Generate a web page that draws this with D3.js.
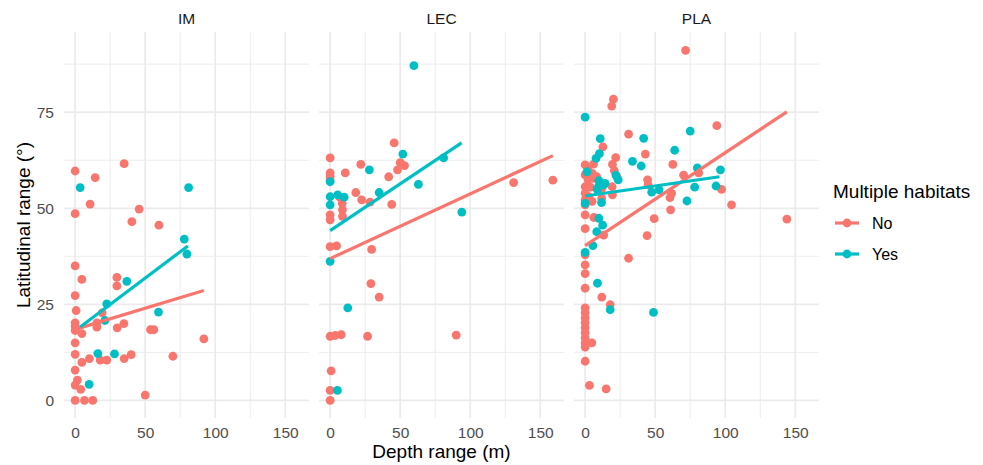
<!DOCTYPE html>
<html>
<head>
<meta charset="utf-8">
<script src="https://cdnjs.cloudflare.com/ajax/libs/d3/7.8.5/d3.min.js"></script>
<style>
  body { margin: 0; background: #fff; }
  text { font-family: "Liberation Sans", Arial, sans-serif; }
</style>
</head>
<body>
<script>
// data: [depth range (m), latitudinal range]
var panels = ["IM", "LEC", "PLA"];
var groups = ["No", "Yes"];
var xTicks = [0, 50, 100, 150];
var yTicks = [0, 25, 50, 75];

var imNo = [[0,59.7],[14.3,58],[35,61.6],[10.7,51.1],[0,48.6],[45.7,49.8],[40.5,46.5],[59.8,45.6],
  [0,35],[4.8,31.5],[29.8,32],[29.8,29.8],[0,27.3],[0.7,23.4],[19.3,22.8],[15.5,20.2],[15.5,19.1],
  [0,20.2],[0,19.3],[0,18.2],[4.8,17.4],[30,18.9],[34.8,20],[53.8,18.4],[56.2,18.4],[91.9,16],
  [0,15],[0,12],[4.8,9.9],[10.2,10.9],[17.9,10.5],[22.6,10.5],[35,10.9],[40,11.9],[69.8,11.5],
  [0,7.9],[1.6,5.3],[0,4],[4,2.9],[50,1.4],[0,0],[6.7,0],[12.6,0]];
var imYes = [[3.6,55.4],[81,55.4],[77.9,42],[79.8,38.1],[36.9,31],[22.6,25.1],[59.5,23],[21.2,20.8],
  [16.2,12.2],[28.1,12.1],[10,4.2]];

var lecNo = [[45.7,67],[0,63.1],[50,61.9],[53.1,61.1],[48.1,60],[21.9,61.4],[0,59.2],[0,58.3],[0,57.4],
  [10.8,59.2],[41.8,58.2],[131,56.7],[159,57.3],[18.3,54.1],[6.9,52.9],[8.6,51.3],[8.8,49.6],[8.8,47.9],
  [22.5,52.2],[28.5,51.6],[44,51],[0,48.3],[0,47],[0,40],[4.6,40.2],[29.6,39.3],[29.1,30.4],[35,26.9],
  [0,16.7],[3.6,16.9],[7.9,17.1],[26.7,16.7],[90,17],[0.7,7.7],[0,2.6],[0,0]];
var lecYes = [[59.8,87.1],[51.9,64.1],[81,63.1],[28,60],[0,56.9],[63,56.2],[35,54.1],[0,53],[5.4,53.5],
  [10,52.9],[0,50.9],[94,49],[0,36.2],[12.6,24.1],[5.2,2.6]];

var plaNo = [[71.7,91.1],[20.2,78.4],[19,76.6],[94,71.5],[31,69.3],[12.7,66],[43,64.1],[21.8,63.2],
  [19.5,61.4],[62.6,61.4],[0,61.3],[6,61.5],[20.8,59.8],[70.3,58.6],[81.1,59.2],[22.9,58],[44.6,57.4],
  [45,56.1],[97.4,54.9],[61.7,53.9],[60.6,52.8],[19.5,53.5],[11.8,52.6],[104.5,50.9],[61,49.6],
  [2.1,60],[0,58.7],[5,59.1],[6.2,57.8],[2.1,57.4],[8.3,58.2],[0,55.6],[3.8,55.5],[11.6,54.9],
  [19.3,55.6],[0,53.9],[2.6,53],[0,52.2],[5,51.8],
  [0,50.9],[0,48.3],[6.2,47.6],[49.3,47.3],[144,47.2],[0,44.7],[13.2,43],[44.2,42.9],[0,37.9],
  [0,35.3],[0,33],[31,37],[0,29.2],[11.9,26.9],[17.9,24.9],[0,24.1],[0,22.8],[0,21.5],[0,20.2],
  [0,18.9],[0,17.6],[0,16.3],[0,15],[4.8,15],[0,13.9],[0,10.2],[3.1,3.9],[15,3]];
var plaYes = [[0,73.7],[75,70.1],[41.8,68.2],[10.8,68.1],[63.9,65.1],[10.2,64.2],[7.8,63],[33.8,62.2],
  [40,61],[80.1,60.5],[96.6,60],[1.3,59.5],[22,58.6],[9.8,57.2],[23.6,57.4],[14.2,56.5],[9.7,55.8],
  [8.6,54.9],[13.3,56.1],[0,51.3],
  [78.2,55.5],[93.4,55.8],[47.5,54.2],[52.8,54.8],[72.7,51.9],[11.7,51.5],[9.8,47.4],[12.5,45.6],
  [8.3,43.9],[5.5,40.3],[0,38.5],[8.8,30.5],[17.9,23.6],[48.8,22.9]];

// fitted lines (lm), start and end points
var imFitNo = [[0,18.5],[91.9,28.6]];
var imFitYes = [[3.6,19.1],[80.5,40.2]];
var lecFitNo = [[0,36.9],[159,63.7]];
var lecFitYes = [[0,44.2],[93.8,67]];
var plaFitNo = [[0,40.3],[144,75.1]];
var plaFitYes = [[0,53.2],[95.9,58.2]];

var pointData = {
  IM: {No: imNo, Yes: imYes},
  LEC: {No: lecNo, Yes: lecYes},
  PLA: {No: plaNo, Yes: plaYes}
};
var fitData = {
  IM: {No: imFitNo, Yes: imFitYes},
  LEC: {No: lecFitNo, Yes: lecFitYes},
  PLA: {No: plaFitNo, Yes: plaFitYes}
};

// chart setup
var svgWidth = 983;
var svgHeight = 465;
var panelTop = 32;
var panelBottom = 418;
var panelWidth = 245;
var panelLefts = [64, 319, 574];

var color = d3.scaleOrdinal().domain(groups).range(["#F8766D", "#00BFC4"]);

var svg = d3.select("body")
  .append("svg")
  .attr("width", svgWidth)
  .attr("height", svgHeight);

var yScale = d3.scaleLinear()
  .domain([-4.565, 95.865])
  .range([panelBottom, panelTop]);

var line = d3.line();

panels.forEach(function(p, i) {
  var left = panelLefts[i];
  var xScale = d3.scaleLinear()
    .domain([-7.95, 166.95])
    .range([left, left + panelWidth]);

  var g = svg.append("g");

  // minor grid
  g.selectAll(".xminor")
    .data([25, 75, 125])
    .enter().append("line")
    .attr("x1", d => xScale(d)).attr("x2", d => xScale(d))
    .attr("y1", panelTop).attr("y2", panelBottom)
    .attr("stroke", "#EBEBEB").attr("stroke-width", 0.9);
  g.selectAll(".yminor")
    .data([12.5, 37.5, 62.5, 87.5])
    .enter().append("line")
    .attr("x1", left).attr("x2", left + panelWidth)
    .attr("y1", d => yScale(d)).attr("y2", d => yScale(d))
    .attr("stroke", "#EBEBEB").attr("stroke-width", 0.9);

  // major grid
  g.selectAll(".xmajor")
    .data(xTicks)
    .enter().append("line")
    .attr("x1", d => xScale(d)).attr("x2", d => xScale(d))
    .attr("y1", panelTop).attr("y2", panelBottom)
    .attr("stroke", "#EBEBEB").attr("stroke-width", 1.7);
  g.selectAll(".ymajor")
    .data(yTicks)
    .enter().append("line")
    .attr("x1", left).attr("x2", left + panelWidth)
    .attr("y1", d => yScale(d)).attr("y2", d => yScale(d))
    .attr("stroke", "#EBEBEB").attr("stroke-width", 1.7);

  // bottom axis labels
  var bottomAxis = d3.axisBottom(xScale).tickValues(xTicks).tickSize(0).tickPadding(0);
  var ax = g.append("g")
    .attr("transform", `translate(0, ${panelBottom + 9})`)
    .call(bottomAxis);
  ax.select(".domain").remove();
  ax.selectAll("text")
    .attr("font-size", "15.5px")
    .attr("fill", "#4D4D4D")
    .attr("dy", "0.71em");

  // strip label
  g.append("text")
    .attr("x", left + panelWidth / 2)
    .attr("y", 24)
    .attr("text-anchor", "middle")
    .attr("font-size", "15.5px")
    .attr("fill", "#1A1A1A")
    .text(p);

  // points
  groups.forEach(function(grp) {
    g.selectAll(".pt-" + grp)
      .data(pointData[p][grp])
      .enter().append("circle")
      .attr("cx", d => xScale(d[0]))
      .attr("cy", d => yScale(d[1]))
      .attr("r", 4.4)
      .attr("fill", color(grp));
  });

  // fit lines on top
  groups.forEach(function(grp) {
    line.x(d => xScale(d[0])).y(d => yScale(d[1]));
    g.append("path")
      .attr("d", line(fitData[p][grp]))
      .attr("fill", "none")
      .attr("stroke", color(grp))
      .attr("stroke-width", 3.2);
  });
});

// left axis labels
var leftAxis = d3.axisLeft(yScale).tickValues(yTicks).tickSize(0).tickPadding(0);
var ay = svg.append("g")
  .attr("transform", `translate(${panelLefts[0] - 10}, 0)`)
  .call(leftAxis);
ay.select(".domain").remove();
ay.selectAll("text")
  .attr("font-size", "15.5px")
  .attr("fill", "#4D4D4D");

// axis titles
svg.append("text")
  .attr("x", (panelLefts[0] + panelLefts[2] + panelWidth) / 2)
  .attr("y", 458)
  .attr("text-anchor", "middle")
  .attr("font-size", "19px")
  .attr("fill", "#000")
  .text("Depth range (m)");

svg.append("text")
  .attr("transform", "rotate(-90)")
  .attr("x", -(panelTop + panelBottom) / 2)
  .attr("y", 30)
  .attr("text-anchor", "middle")
  .attr("font-size", "19px")
  .attr("fill", "#000")
  .text("Latitudinal range (°)");

// legend
var legend = svg.append("g").attr("transform", "translate(833, 0)");
legend.append("text")
  .attr("x", 0)
  .attr("y", 198)
  .attr("font-size", "19px")
  .attr("fill", "#000")
  .text("Multiple habitats");

var keys = legend.selectAll(".key")
  .data(groups)
  .enter().append("g")
  .attr("transform", (d, i) => `translate(0, ${223 + i * 31})`);
keys.append("line")
  .attr("x1", 2).attr("x2", 26)
  .attr("stroke", d => color(d))
  .attr("stroke-width", 3.2);
keys.append("circle")
  .attr("cx", 14).attr("r", 4.4)
  .attr("fill", d => color(d));
keys.append("text")
  .attr("x", 39)
  .attr("y", 6)
  .attr("font-size", "16px")
  .attr("fill", "#000")
  .text(d => d);
</script>
</body>
</html>
